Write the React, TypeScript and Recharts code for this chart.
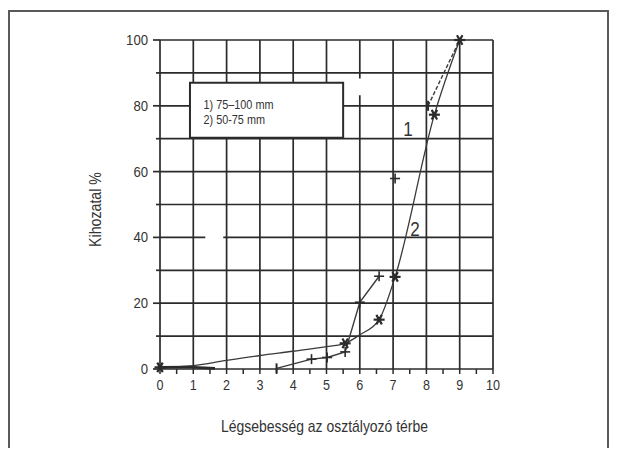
import React from 'react';
import {
  LineChart, Line, XAxis, YAxis, CartesianGrid, ReferenceArea, ReferenceLine, ReferenceDot, Label,
} from 'recharts';

const FONT = "'Liberation Sans', Arial, sans-serif";
const INK = '#2b2b2b';
const TEXT = '#333333';

// Axis ticks
const xTicks = [0, 0.5, 1, 1.5, 2, 2.5, 3, 3.5, 4, 4.5, 5, 5.5, 6, 6.5, 7, 7.5, 8, 8.5, 9, 9.5, 10];
const xGrid = [0, 1, 2, 3, 4, 5, 6, 7, 8, 9, 10];
const yTicks = [0, 10, 20, 30, 40, 50, 60, 70, 80, 90, 100];
const yLabels = [0, 20, 40, 60, 80, 100];

// Texts
const xTitle = 'Légsebesség az osztályozó térbe';
const yTitle = 'Kihozatal %';
const legendLines = ['1) 75\u2013100 mm', '2) 50-75 mm'];

// Curve 2 (50-75 mm), asterisk markers
const s2X = [0, 1, 2, 3, 4, 5, 5.56, 6.0, 6.58, 7.06, 8.24, 9.0];
const s2Y = [0.5, 1.0, 2.6, 4.1, 5.4, 6.8, 7.8, 10.4, 15.0, 28.0, 77.3, 100];
const s2M = ['star', 'none', 'none', 'none', 'none', 'none', 'star', 'none', 'star', 'star', 'star', 'star'];

// Curve 1 (75-100 mm), plus markers, drawn in pieces
const s1aX = [0, 0.85, 1.65];
const s1aY = [0.5, 0.6, 0.2];
const s1aM = ['none', 'none', 'none'];
const s1bX = [3.5, 4.55, 5.02, 5.56, 6.0, 6.58];
const s1bY = [0.2, 3.0, 3.5, 5.2, 20.3, 28.2];
const s1bM = ['bar', 'plus', 'plus', 'plus', 'plus', 'plus'];
const s1cX = [7.06];
const s1cY = [57.9];
const s1cM = ['plus'];
const s1dX = [8.05, 9.0];
const s1dY = [80, 100];
const s1dM = ['bar', 'none'];

const rows = (xs: number[], ys: number[], ms: string[]) =>
  xs.map((x, i) => ({ x, y: ys[i], m: ms[i] }));

const s2 = rows(s2X, s2Y, s2M);
const s1a = rows(s1aX, s1aY, s1aM);
const s1b = rows(s1bX, s1bY, s1bM);
const s1c = rows(s1cX, s1cY, s1cM);
const s1d = rows(s1dX, s1dY, s1dM);

const Marker = (props: any) => {
  const { cx, cy, payload, index } = props;
  const k = `m-${index}-${cx}-${cy}`;
  if (cx == null || cy == null || !payload) return <g key={k} />;
  const m = payload.m;
  if (m === 'star') {
    const r = 5.5;
    const segs = [0, 60, 120].map((a) => {
      const rad = (a * Math.PI) / 180;
      return (
        <line key={a} x1={cx - r * Math.cos(rad)} y1={cy - r * Math.sin(rad)}
          x2={cx + r * Math.cos(rad)} y2={cy + r * Math.sin(rad)} stroke={INK} strokeWidth={2.2} />
      );
    });
    return <g key={k}>{segs}<circle cx={cx} cy={cy} r={2.2} fill={INK} /></g>;
  }
  if (m === 'plus') {
    const r = 5;
    return (
      <g key={k}>
        <line x1={cx - r} y1={cy} x2={cx + r} y2={cy} stroke={INK} strokeWidth={1.6} />
        <line x1={cx} y1={cy - r} x2={cx} y2={cy + r} stroke={INK} strokeWidth={1.6} />
      </g>
    );
  }
  if (m === 'bar') {
    return (
      <g key={k}>
        <line x1={cx} y1={cy - 5} x2={cx} y2={cy + 5} stroke={INK} strokeWidth={2} />
      </g>
    );
  }
  return <g key={k} />;
};

const XTick = (props: any) => {
  const { x, y, payload } = props;
  const v = payload.value;
  const isInt = Number.isInteger(v);
  const s = String(v);
  return (
    <g>
      <line x1={x} y1={y} x2={x} y2={y + 5} stroke={INK} strokeWidth={1.5} />
      {isInt && (
        <text x={x} y={y + 20.5} textAnchor="middle" fontSize={15} fontFamily={FONT} fill={TEXT}
          textLength={7 * s.length} lengthAdjust="spacingAndGlyphs">
          {s}
        </text>
      )}
    </g>
  );
};

const YTick = (props: any) => {
  const { x, y, payload } = props;
  const v = payload.value;
  const labeled = yLabels.includes(v);
  const s = String(v);
  return (
    <g>
      <line x1={x - (labeled ? 7 : 4)} y1={y} x2={x} y2={y} stroke={INK} strokeWidth={1.7} />
      {labeled && (
        <text x={x - 12} y={y + 5} textAnchor="end" fontSize={15} fontFamily={FONT} fill={TEXT}
          textLength={7.3 * s.length} lengthAdjust="spacingAndGlyphs">
          {s}
        </text>
      )}
    </g>
  );
};

export default function App() {
  return (
    <div
      style={{
        marginTop: 2,
        width: 597,
        height: 436,
        borderTop: '2px solid #5a5a5a',
        borderLeft: '2px solid #5a5a5a',
        borderRight: '2px solid #5a5a5a',
        background: '#fff',
      }}
    >
      <LineChart
        width={597}
        height={436}
        margin={{ top: 28, right: 114, left: 100, bottom: 49 }}
      >
        <CartesianGrid
          stroke={INK}
          strokeWidth={1.7}
          horizontalValues={yTicks}
          verticalValues={xGrid}
        />
        <XAxis
          dataKey="x"
          type="number"
          domain={[0, 10]}
          ticks={xTicks}
          interval={0}
          axisLine={false}
          tickLine={false}
          tickSize={0}
          tickMargin={0}
          height={30}
          tick={<XTick />}
        >
          <Label
            content={({ viewBox }: any) => (
              <text
                x={viewBox.x + viewBox.width / 2 - 2}
                y={420}
                textAnchor="middle"
                fontSize={17}
                fontFamily={FONT}
                fill={TEXT}
                textLength={207}
                lengthAdjust="spacingAndGlyphs"
              >
                {xTitle}
              </text>
            )}
          />
        </XAxis>
        <YAxis
          type="number"
          domain={[0, 100]}
          ticks={yTicks}
          interval={0}
          axisLine={false}
          tickLine={false}
          tickSize={0}
          tickMargin={0}
          width={50}
          tick={<YTick />}
        >
          <Label
            content={({ viewBox }: any) => {
              const cx = viewBox.x - 14.5;
              const cy = viewBox.y + viewBox.height / 2 + 5;
              return (
                <text
                  x={cx}
                  y={cy}
                  transform={`rotate(-90 ${cx} ${cy})`}
                  textAnchor="middle"
                  dominantBaseline="central"
                  fontSize={17}
                  fontFamily={FONT}
                  fill={TEXT}
                  textLength={75}
                  lengthAdjust="spacingAndGlyphs"
                >
                  {yTitle}
                </text>
              );
            }}
          />
        </YAxis>

        <ReferenceLine segment={[{ x: 1.36, y: 40 }, { x: 1.9, y: 40 }]} stroke="#fff" strokeWidth={4} />
        <ReferenceLine segment={[{ x: 6, y: 83.2 }, { x: 6, y: 88.3 }]} stroke="#fff" strokeWidth={4} />

        <ReferenceArea
          x1={0.9}
          x2={5.5}
          y1={70.3}
          y2={87}
          fill="#fff"
          fillOpacity={1}
          stroke={INK}
          strokeWidth={2}
        >
          <Label
            content={({ viewBox }: any) => (
              <g>
                {legendLines.map((t, i) => (
                  <text
                    key={t}
                    x={viewBox.x + 13.5}
                    y={viewBox.y + 26.5 + i * 14.5}
                    fontSize={13}
                    fontFamily={FONT}
                    fill={TEXT}
                    textLength={i === 0 ? 70 : 61.5}
                    lengthAdjust="spacingAndGlyphs"
                  >
                    {t}
                  </text>
                ))}
              </g>
            )}
          />
        </ReferenceArea>

        <ReferenceDot x={7.45} y={73} r={0} fill="none" stroke="none">
          <Label
            content={({ viewBox }: any) => (
              <text x={viewBox.x} y={viewBox.y + 7} textAnchor="middle" fontSize={20} fontFamily={FONT} fill={TEXT}
                textLength={9.5} lengthAdjust="spacingAndGlyphs">
                1
              </text>
            )}
          />
        </ReferenceDot>
        <ReferenceDot x={7.66} y={42.5} r={0} fill="none" stroke="none">
          <Label
            content={({ viewBox }: any) => (
              <text x={viewBox.x} y={viewBox.y + 7} textAnchor="middle" fontSize={20} fontFamily={FONT} fill={TEXT}
                textLength={9.5} lengthAdjust="spacingAndGlyphs">
                2
              </text>
            )}
          />
        </ReferenceDot>

        <Line data={s2} dataKey="y" type="monotone" stroke="#3a3a3a" strokeWidth={1.3} dot={Marker} activeDot={false} isAnimationActive={false} />
        <Line data={s1a} dataKey="y" type="linear" stroke={INK} strokeWidth={2.6} dot={Marker} activeDot={false} isAnimationActive={false} />
        <Line data={s1b} dataKey="y" type="linear" stroke="#3a3a3a" strokeWidth={1.4} dot={Marker} activeDot={false} isAnimationActive={false} />
        <Line data={s1c} dataKey="y" type="linear" stroke="#3a3a3a" strokeWidth={1.4} dot={Marker} activeDot={false} isAnimationActive={false} />
        <Line data={s1d} dataKey="y" type="linear" stroke="#3a3a3a" strokeWidth={1.4} strokeDasharray="4 2" dot={Marker} activeDot={false} isAnimationActive={false} />
      </LineChart>
    </div>
  );
}
